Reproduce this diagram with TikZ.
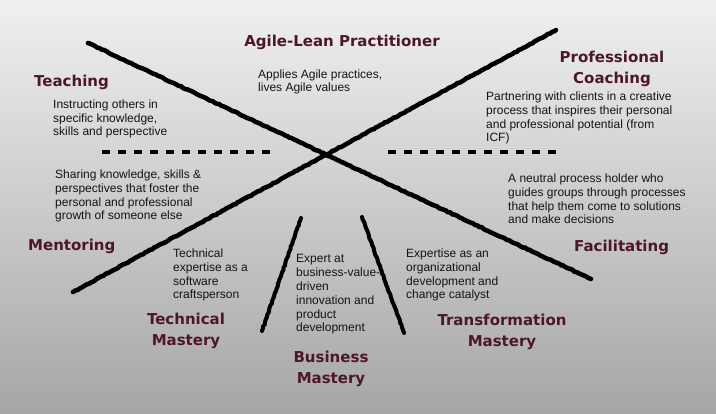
\documentclass[tikz,border=0pt]{standalone}
\usepackage{fontspec}
\setmainfont{Liberation Sans}
\newfontfamily\headfont{DejaVu Sans}
\usetikzlibrary{decorations.pathmorphing}

\definecolor{roletitle}{RGB}{78,22,44}
\definecolor{bgtop}{RGB}{240,240,240}
\definecolor{bgbottom}{RGB}{166,166,166}

\tikzset{
  x=1pt, y=-1pt,
  % multi-line nodes sit on the baseline of their last line
  role/.style={font=\headfont\bfseries\fontsize{15}{21}\selectfont,
    text=roletitle, align=center, inner sep=0pt, anchor=base},
  desc/.style={font=\fontsize{12}{13.9}\selectfont, text=black!92,
    align=left, inner sep=0pt, anchor=base west},
  chalk/.style={draw=black, line width=4.6pt, line cap=round,
    decorate, decoration={random steps, segment length=2.5pt, amplitude=0.45pt}},
  divider/.style={draw=black, line width=4pt, dash pattern=on 8pt off 8pt},
}

\begin{document}
\begin{tikzpicture}
  % backdrop
  \shade[top color=bgtop, bottom color=bgbottom] (0,0) rectangle (716,414);
  \useasboundingbox (0,0) rectangle (716,414);

  % end points of the strokes
  \coordinate (xa1) at (88,43);   \coordinate (xa2) at (591,279);
  \coordinate (xb1) at (73,292);  \coordinate (xb2) at (556,30);
  \coordinate (ta1) at (301,218); \coordinate (ta2) at (262,331);
  \coordinate (tb1) at (362,217); \coordinate (tb2) at (404,333);
  \coordinate (da1) at (102,152); \coordinate (da2) at (270,152);
  \coordinate (db1) at (388,152); \coordinate (db2) at (556,152);

  % the big cross and the two short strokes
  \draw[chalk] (xa1) -- (xa2);
  \draw[chalk] (xb1) -- (xb2);
  \draw[chalk, line width=4pt] (ta1) -- (ta2);
  \draw[chalk, line width=4pt] (tb1) -- (tb2);

  % dashed dividers
  \draw[divider] (da1) -- (da2);
  \draw[divider] (db1) -- (db2);

  % role titles
  \node[role] (agile) at (342,47) {Agile-Lean Practitioner};
  \node[role, anchor=base west] (teach) at (34,87) {Teaching};
  \node[role] (coach) at (612,84) {Professional\\Coaching};
  \node[role, anchor=base west] (mentor) at (28,251) {Mentoring};
  \node[role, anchor=base west] (facil) at (574,252) {Facilitating};
  \node[role] (techm) at (186,346) {Technical\\Mastery};
  \node[role] (busm) at (331,384) {Business\\Mastery};
  \node[role] (transm) at (502,347) {Transformation\\Mastery};

  % descriptions
  \node[desc] (agiled) at (258,92) {Applies Agile practices,\\lives Agile values};
  \node[desc] (teachd) at (53,136) {Instructing others in\\specific knowledge,\\skills and perspective};
  \node[desc] (coachd) at (486,142) {Partnering with clients in a creative\\process that inspires their personal\\and professional potential (from\\ICF)};
  \node[desc] (mentord) at (55,220) {Sharing knowledge, skills \&\\perspectives that foster the\\personal and professional\\growth of someone else};
  \node[desc] (facild) at (508,224) {A neutral process holder who\\guides groups through processes\\that help them come to solutions\\and make decisions};
  \node[desc] (techd) at (173,299) {Technical\\expertise as a\\software\\craftsperson};
  \node[desc] (busd) at (296,332) {Expert at\\business-value-\\driven\\innovation and\\product\\development};
  \node[desc] (transd) at (406,299) {Expertise as an\\organizational\\development and\\change catalyst};
\end{tikzpicture}
\end{document}
